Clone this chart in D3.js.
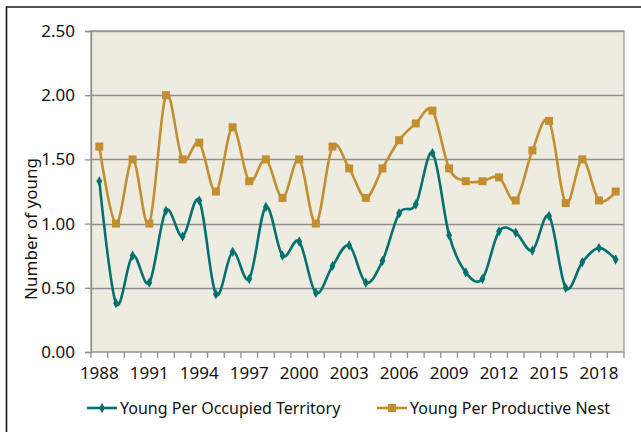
<!DOCTYPE html>
<html>
<head>
<meta charset="utf-8">
<script src="https://cdn.jsdelivr.net/npm/d3@7"></script>
<style>
  body { margin: 0; background: #fff; }
  svg { display: block; font-family: 'Noto Sans', sans-serif; }
</style>
</head>
<body>
<div id="chart-area"></div>
<script>
// DATA
const years = d3.range(1988, 2020)
const occupied = [1.33, 0.38, 0.75, 0.54, 1.10, 0.90, 1.18, 0.45, 0.78, 0.57,
                  1.13, 0.75, 0.86, 0.46, 0.67, 0.83, 0.54, 0.71, 1.08, 1.15,
                  1.55, 0.91, 0.62, 0.57, 0.94, 0.93, 0.79, 1.06, 0.50, 0.70,
                  0.81, 0.72]
const productive = [1.60, 1.00, 1.50, 1.00, 2.00, 1.50, 1.63, 1.25, 1.75, 1.33,
                    1.50, 1.20, 1.50, 1.00, 1.60, 1.43, 1.20, 1.43, 1.65, 1.78,
                    1.88, 1.43, 1.33, 1.33, 1.36, 1.18, 1.57, 1.80, 1.16, 1.50,
                    1.18, 1.25]
const yTicks = [0, 0.5, 1, 1.5, 2, 2.5]
const xTickLabels = [1988, 1991, 1994, 1997, 2000, 2003, 2006, 2009, 2012, 2015, 2018]

const seriesNames = ['Young Per Occupied Territory', 'Young Per Productive Nest']
const colors = ['#00716E', '#C18F30']

// SIZE
const W = 641
const H = 432
const plot = { left: 91, right: 624, top: 31, bottom: 352 }

const svg = d3.select('#chart-area')
              .append('svg')
              .attr('width', W)
              .attr('height', H)

// OUTER FRAME (cropped: only left and top visible)
svg.append('path')
   .attr('d', 'M6.5,' + H + 'V7H' + W)
   .attr('fill', 'none')
   .attr('stroke', '#1a1a1a')
   .attr('stroke-width', 1.6)

// SCALES
const x = d3.scaleBand()
            .domain(years)
            .range([plot.left, plot.right])
            .padding(0)

const y = d3.scaleLinear()
            .domain([0, 2.5])
            .range([plot.bottom, plot.top])

const cx = d => x(d) + x.bandwidth() / 2

// PLOT BACKGROUND
svg.append('rect')
   .attr('x', plot.left)
   .attr('y', plot.top)
   .attr('width', plot.right - plot.left)
   .attr('height', plot.bottom - plot.top)
   .attr('fill', '#EEEBE0')

// GRIDLINES
svg.append('g')
   .selectAll('line')
   .data(yTicks.filter(d => d > 0))
   .enter()
   .append('line')
   .attr('x1', plot.left)
   .attr('x2', plot.right)
   .attr('y1', d => Math.round(y(d)) + 0.5)
   .attr('y2', d => Math.round(y(d)) + 0.5)
   .attr('stroke', '#8f8f8f')
   .attr('stroke-width', 1.3)

// PLOT BORDER (left, top, right)
svg.append('path')
   .attr('d', 'M' + plot.left + ',' + plot.bottom + 'V' + plot.top + 'H' + plot.right + 'V' + plot.bottom)
   .attr('fill', 'none')
   .attr('stroke', '#9a9a9a')
   .attr('stroke-width', 1.3)

// Y AXIS
const yAxisGroup = svg.append('g')
                      .attr('transform', 'translate(' + plot.left + ',0)')
                      .call(d3.axisLeft(y)
                              .tickValues(yTicks)
                              .tickFormat(d3.format('.2f'))
                              .tickSize(6)
                              .tickPadding(10))
yAxisGroup.select('.domain').attr('stroke', '#8f8f8f').attr('stroke-width', 1.3)
yAxisGroup.selectAll('.tick line').attr('stroke', '#8f8f8f').attr('stroke-width', 1.3)
yAxisGroup.selectAll('.tick text')
          .attr('font-size', '17px')
          .attr('fill', '#111')
          .attr('font-family', "'Noto Sans', sans-serif")

// X AXIS (labels every 3rd year, ticks between categories)
const xAxisGroup = svg.append('g')
                      .attr('transform', 'translate(0,' + plot.bottom + ')')
                      .call(d3.axisBottom(x)
                              .tickValues(xTickLabels)
                              .tickSize(0)
                              .tickPadding(15))
xAxisGroup.select('.domain').remove()
xAxisGroup.selectAll('.tick text')
          .attr('font-size', '17px')
          .attr('fill', '#111')
          .attr('font-family', "'Noto Sans', sans-serif")

svg.append('line')
   .attr('x1', plot.left)
   .attr('x2', plot.right)
   .attr('y1', plot.bottom)
   .attr('y2', plot.bottom)
   .attr('stroke', '#8f8f8f')
   .attr('stroke-width', 1.3)

svg.append('g')
   .selectAll('line')
   .data(years.map(d => x(d)).concat([x(years[years.length - 1]) + x.bandwidth()]))
   .enter()
   .append('line')
   .attr('x1', d => d)
   .attr('x2', d => d)
   .attr('y1', plot.bottom)
   .attr('y2', plot.bottom + 6)
   .attr('stroke', '#8f8f8f')
   .attr('stroke-width', 1.3)

// Y AXIS TITLE
svg.append('text')
   .attr('transform', 'translate(37,229) rotate(-90)')
   .attr('text-anchor', 'middle')
   .attr('font-size', '17px')
   .attr('fill', '#111')
   .text('Number of young')

// LINES
const line = d3.line()
               .x((d, i) => cx(years[i]))
               .y(d => y(d))
               .curve(d3.curveCatmullRom.alpha(0))

const series = [occupied, productive]

series.forEach((vals, k) => {
    svg.append('path')
       .datum(vals)
       .attr('d', line)
       .attr('fill', 'none')
       .attr('stroke', colors[k])
       .attr('stroke-width', 2.6)
})

// MARKERS
const diamond = d3.symbol().type(d3.symbolDiamond).size(30)
svg.append('g')
   .selectAll('path')
   .data(occupied)
   .enter()
   .append('path')
   .attr('d', diamond)
   .attr('transform', (d, i) => 'translate(' + cx(years[i]) + ',' + y(d) + ')')
   .attr('fill', colors[0])

svg.append('g')
   .selectAll('rect')
   .data(productive)
   .enter()
   .append('rect')
   .attr('x', (d, i) => cx(years[i]) - 4)
   .attr('y', d => y(d) - 4)
   .attr('width', 8)
   .attr('height', 8)
   .attr('fill', colors[1])

// LEGEND
const legendX = [87, 377]
const legendY = 408
const legend = svg.append('g')
                  .selectAll('g')
                  .data(seriesNames)
                  .enter()
                  .append('g')
                  .attr('transform', (d, i) => 'translate(' + legendX[i] + ',' + legendY + ')')

legend.append('line')
      .attr('x1', 0)
      .attr('x2', 30)
      .attr('stroke', (d, i) => colors[i])
      .attr('stroke-width', 2.6)

legend.each(function (d, i) {
    const g = d3.select(this)
    if (i === 0) {
        g.append('path')
         .attr('d', diamond)
         .attr('transform', 'translate(15,0)')
         .attr('fill', colors[0])
    } else {
        g.append('rect')
         .attr('x', 11)
         .attr('y', -4)
         .attr('width', 8)
         .attr('height', 8)
         .attr('fill', colors[1])
    }
})

legend.append('text')
      .attr('x', 33)
      .attr('y', 6)
      .attr('font-size', '16px')
      .attr('fill', '#111')
      .text(d => d)
</script>
</body>
</html>
